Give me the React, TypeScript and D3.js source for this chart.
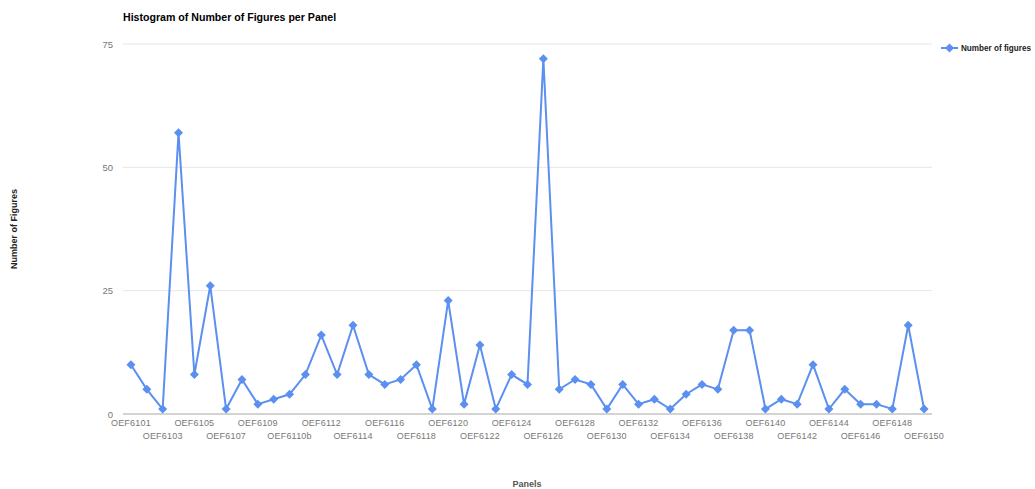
import React from "react";
import * as d3 from "d3";

const panels: string[] = [
  "OEF6101","OEF6102","OEF6103","OEF6104","OEF6105","OEF6106","OEF6107","OEF6108","OEF6109","OEF6110",
  "OEF6110b","OEF6111","OEF6112","OEF6113","OEF6114","OEF6115","OEF6116","OEF6117","OEF6118","OEF6119",
  "OEF6120","OEF6121","OEF6122","OEF6123","OEF6124","OEF6125","OEF6126","OEF6127","OEF6128","OEF6129",
  "OEF6130","OEF6131","OEF6132","OEF6133","OEF6134","OEF6135","OEF6136","OEF6137","OEF6138","OEF6139",
  "OEF6140","OEF6141","OEF6142","OEF6143","OEF6144","OEF6145","OEF6146","OEF6147","OEF6148","OEF6149",
  "OEF6150",
];
const figures: number[] = [
  10,5,1,57,8,26,1,7,2,3,
  4,8,16,8,18,8,6,7,10,1,
  23,2,14,1,8,6,72,5,7,6,
  1,6,2,3,1,4,6,5,17,17,
  1,3,2,10,1,5,2,2,1,18,
  1,
];
const yTicks: number[] = [0, 25, 50, 75];
const seriesName = "Number of figures";

const W = 1035, H = 489;
const left = 123, right = 932, top = 44, bottom = 414;
const color = "#5b8ff0";
const font = "'Liberation Sans', Arial, sans-serif";

export default function App() {
  const x = d3.scalePoint<string>().domain(panels).range([left, right]).padding(0.5);
  const y = d3.scaleLinear().domain([0, 75]).range([bottom, top]);
  const line = d3.line<number>().x((_, i) => x(panels[i]) as number).y((d) => y(d));
  const diamond = (cx: number, cy: number, r: number) =>
    `M${cx},${cy - r}L${cx + r},${cy}L${cx},${cy + r}L${cx - r},${cy}Z`;

  return (
    <svg width={W} height={H} style={{ position: "absolute", left: 0, top: 0, background: "#fff" }} fontFamily={font}>
      <text x={123} y={21} fontSize={10.6} fontWeight="bold" fill="#000">Histogram of Number of Figures per Panel</text>
      {yTicks.map((t) => (
        <g key={t}>
          {t !== 0 && <line x1={left} x2={right} y1={y(t)} y2={y(t)} stroke="#e6e6e6" strokeWidth={1} />}
          <text x={113} y={y(t) + 3.5} fontSize={9.5} fill="#777" textAnchor="end">{t}</text>
        </g>
      ))}
      <line x1={left} x2={right} y1={y(0)} y2={y(0)} stroke="#c4c4c4" strokeWidth={1.5} />
      {panels.map((p, i) =>
        i % 2 === 0 ? (
          <text key={p} x={x(p) as number} y={i % 4 === 0 ? 426 : 438.5} fontSize={9} letterSpacing={0.2} fill="#777" textAnchor="middle">{p}</text>
        ) : null
      )}
      <path d={line(figures) || ""} fill="none" stroke={color} strokeWidth={2} />
      {figures.map((v, i) => (
        <path key={i} d={diamond(x(panels[i]) as number, y(v), 4.5)} fill={color} />
      ))}
      <text transform={`translate(17,229) rotate(-90)`} fontSize={9} fontWeight="bold" fill="#222" textAnchor="middle">Number of Figures</text>
      <text x={527} y={487} fontSize={9} fontWeight="bold" fill="#555" textAnchor="middle">Panels</text>
      <line x1={941} x2={958} y1={48} y2={48} stroke={color} strokeWidth={2} />
      <path d={diamond(949.5, 48, 4.5)} fill={color} />
      <text x={961} y={51} fontSize={8.6} fontWeight="bold" fill="#222" textLength={70} lengthAdjust="spacingAndGlyphs">{seriesName}</text>
    </svg>
  );
}
